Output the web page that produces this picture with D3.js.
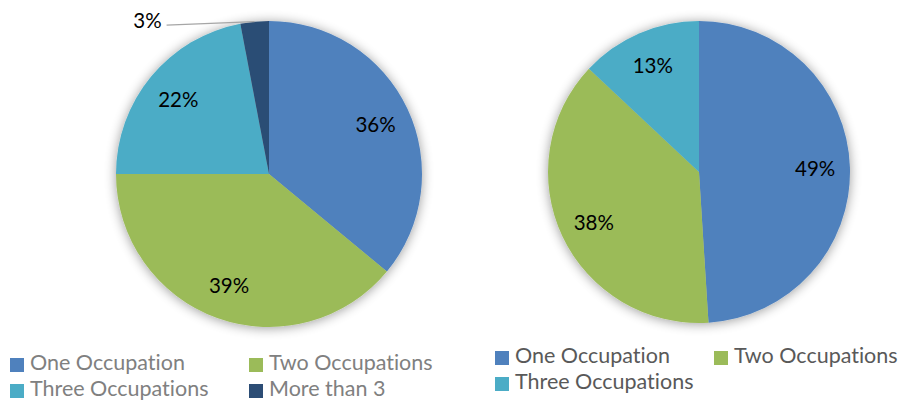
<!DOCTYPE html>
<html><head><meta charset="utf-8">
<script src="https://cdn.jsdelivr.net/npm/d3@7"></script>
<style>body{margin:0;background:#fff}svg{display:block}text{font-variant-ligatures:none;font-feature-settings:"liga" 0,"clig" 0}</style>
</head><body>
<svg id="c" width="909" height="401"></svg>
<script>
const leftCategories = ["One Occupation","Two Occupations","Three Occupations","More than 3"];
const leftValues = [36,39,22,3];
const rightCategories = ["One Occupation","Two Occupations","Three Occupations"];
const rightValues = [49,38,13];
const colors = ["#4F81BD","#9BBB59","#4BACC6","#2C4D75"];

const svg = d3.select("#c");
const defs = svg.append("defs");
const f = defs.append("filter").attr("id","sh").attr("x","-20%").attr("y","-20%").attr("width","140%").attr("height","140%");
f.append("feGaussianBlur").attr("in","SourceAlpha").attr("stdDeviation",6).attr("result","b");
f.append("feOffset").attr("in","b").attr("dx",0).attr("dy",1).attr("result","o");
f.append("feComponentTransfer").attr("in","o").attr("result","t").append("feFuncA").attr("type","linear").attr("slope",0.4);
const m = f.append("feMerge"); m.append("feMergeNode").attr("in","t"); m.append("feMergeNode").attr("in","SourceGraphic");

const FONT = "Lato, 'Open Sans', sans-serif";
function drawPie(cx, cy, r, cats, vals, outsideIdx){
  const pie = d3.pie().sort(null).value(d=>d)(vals);
  const arc = d3.arc().innerRadius(0).outerRadius(r);
  const lab = d3.arc().innerRadius(r*0.77).outerRadius(r*0.77);
  const g = svg.append("g").attr("transform",`translate(${cx},${cy})`);
  g.append("g").attr("filter","url(#sh)").selectAll("path").data(pie).join("path")
    .attr("d",arc).attr("fill",(d,i)=>colors[i]);
  pie.forEach((d,i)=>{
    const t = vals[i] + "%";
    if(i===outsideIdx){
      const edge = d3.arc().innerRadius(r).outerRadius(r).centroid(d);
      const end = [edge[0]-88, edge[1]+3.5];
      g.append("line").attr("x1",edge[0]).attr("y1",edge[1]).attr("x2",end[0]).attr("y2",end[1])
        .attr("stroke","#a6a6a6").attr("stroke-width",1.3);
      g.append("text").attr("x",end[0]-5).attr("y",end[1]-5).attr("text-anchor","end")
        .attr("dominant-baseline","central").attr("font-family",FONT)
        .attr("font-size",20.5).attr("fill","#000").text(t);
    } else {
      const c = lab.centroid(d);
      g.append("text").attr("x",c[0]).attr("y",c[1]).attr("text-anchor","middle")
        .attr("dominant-baseline","central").attr("font-family",FONT)
        .attr("font-size",20.5).attr("fill","#000").text(t);
    }
  });
}
drawPie(269,174,153,leftCategories,leftValues,3);
drawPie(699,172,151,rightCategories,rightValues,-1);

function legend(x0, y0, colW, rowH, cats, textColor){
  const g = svg.append("g");
  cats.forEach((c,i)=>{
    const col = i%2, row = Math.floor(i/2);
    const x = x0 + col*colW, y = y0 + row*rowH;
    g.append("rect").attr("x",x).attr("y",y-12).attr("width",14).attr("height",14).attr("fill",colors[i]);
    g.append("text").attr("x",x+20).attr("y",y).attr("font-family",FONT)
      .attr("font-size",21.5).attr("fill",textColor).text(c);
  });
}
legend(10,370,239,26,leftCategories,"#808080");
legend(495,363,219,26,rightCategories,"#595959");
</script>
</body></html>
